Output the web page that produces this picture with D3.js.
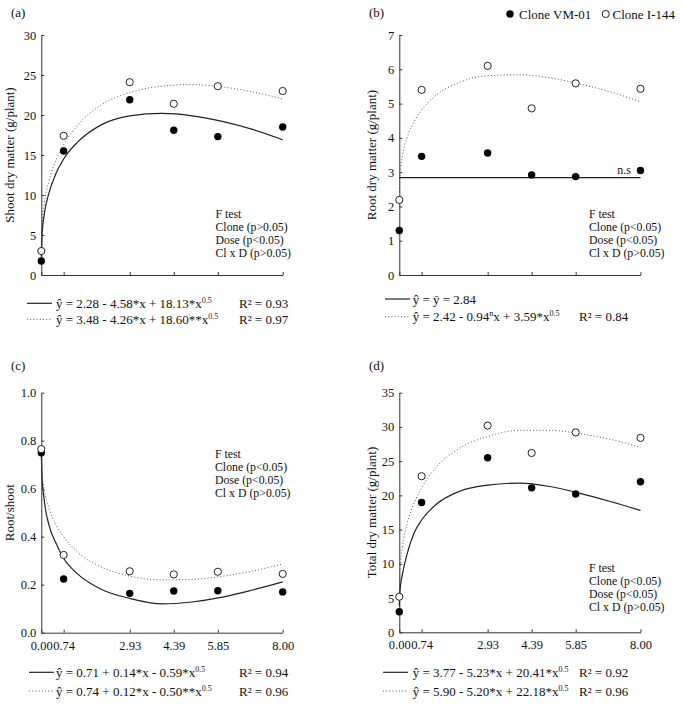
<!DOCTYPE html>
<html>
<head>
<meta charset="utf-8">
<script src="https://cdn.jsdelivr.net/npm/d3@7"></script>
<style>
  body { margin: 0; background: #fff; }
  svg { display: block; }
  text { font-family: "Liberation Serif", "Times New Roman", serif; fill: #111; }
</style>
</head>
<body>
<div id="chart"></div>
<script>
// doses (x) and observed means
const doses = [0, 0.74, 2.93, 4.39, 5.85, 8.00];
const doseLabels = ["0.00", "0.74", "2.93", "4.39", "5.85", "8.00"];

const shootVM   = [1.75, 15.5, 21.9, 18.1, 17.3, 18.5];
const shootI144 = [3.0, 17.4, 24.1, 21.4, 23.6, 23.0];
const rootVM    = [1.30, 3.46, 3.56, 2.92, 2.87, 3.05];
const rootI144  = [2.19, 5.40, 6.10, 4.86, 5.59, 5.43];
const ratioVM   = [0.75, 0.224, 0.164, 0.174, 0.175, 0.17];
const ratioI144 = [0.765, 0.324, 0.256, 0.243, 0.254, 0.245];
const totalVM   = [3.0, 18.96, 25.5, 21.1, 20.2, 22.0];
const totalI144 = [5.2, 22.8, 30.2, 26.2, 29.2, 28.4];

// fitted curves
const fitX = [0, 0.02, 0.1, 0.25, 0.5, 0.74, 1.2, 2, 2.93, 4, 5, 6, 7, 8];
const shootVMFit   = [2.3, 4.7, 7.6, 10.2, 12.8, 14.5, 16.6, 18.8, 19.9, 20.2, 19.9, 19.2, 18.2, 16.9];
const shootI144Fit = [3.5, 6.0, 8.9, 11.7, 14.5, 16.3, 18.7, 21.3, 22.8, 23.6, 23.8, 23.5, 22.9, 22.0];
const rootVMFitX   = [0, 8];
const rootVMFit    = [2.84, 2.84];
const rootI144Fit  = [2.42, 2.91, 3.46, 3.98, 4.49, 4.81, 5.23, 5.62, 5.81, 5.84, 5.75, 5.57, 5.34, 5.05];
const ratioVMFit   = [0.75, 0.66, 0.55, 0.45, 0.37, 0.31, 0.245, 0.18, 0.143, 0.12, 0.128, 0.148, 0.178, 0.212];
const ratioI144Fit = [0.74, 0.672, 0.594, 0.52, 0.446, 0.40, 0.336, 0.273, 0.236, 0.22, 0.222, 0.235, 0.257, 0.286];
const totalVMFit   = [3.8, 6.0, 8.4, 11.3, 14.6, 16.4, 18.6, 20.6, 21.5, 21.8, 21.3, 20.3, 19.1, 17.8];
const totalI144Fit = [5.9, 8.9, 12.4, 15.7, 19.0, 21.1, 24.0, 26.9, 28.6, 29.5, 29.5, 29.0, 28.2, 27.0];

const fTests = {
  a: ["F test", "Clone (p>0.05)", "Dose (p<0.05)", "Cl x D (p>0.05)"],
  b: ["F test", "Clone (p<0.05)", "Dose (p<0.05)", "Cl x D (p>0.05)"],
  c: ["F test", "Clone (p<0.05)", "Dose (p<0.05)", "Cl x D (p>0.05)"],
  d: ["F test", "Clone (p<0.05)", "Dose (p<0.05)", "Cl x D (p>0.05)"]
};

width = 684;
height = 704;
ftStep = 13.1;

svg = d3.select("#chart").append("svg")
    .attr("width", width)
    .attr("height", height);

panels = [
  { id: "a", x0: 41.3, x1: 282.7, y0: 275, y1: 35, max: 30, ticks: d3.range(0, 31, 5), fmt: d3.format("d"),
    ylab: "Shoot dry matter (g/plant)", ylabX: 9, showX: false,
    vm: shootVM, i144: shootI144, vmFitX: fitX, vmFit: shootVMFit, iFit: shootI144Fit,
    ftX: 215.5, ftY: 217.5,
    leg: { lx: 27, tx: 56, rx: 239, y1: 303.3, y2: 319.3,
      lines: [
        [["ŷ = 2.28 - 4.58*x + 18.13*x", "0.5"], "R² = 0.93"],
        [["ŷ = 3.48 - 4.26*x + 18.60**x", "0.5"], "R² = 0.97"]
      ] } },
  { id: "b", x0: 399.3, x1: 640.5, y0: 275, y1: 35, max: 7, ticks: d3.range(0, 8, 1), fmt: d3.format("d"),
    ylab: "Root dry matter (g/plant)", ylabX: 371, showX: false,
    vm: rootVM, i144: rootI144, vmFitX: rootVMFitX, vmFit: rootVMFit, iFit: rootI144Fit,
    ftX: 589, ftY: 217.5,
    leg: { lx: 385, tx: 412.7, rx: 579, y1: 299, y2: 316.7,
      lines: [
        [["ŷ = ȳ = 2.84"], ""],
        [["ŷ = 2.42 - 0.94", "n", "x + 3.59*x", "0.5"], "R² = 0.84"]
      ] } },
  { id: "c", x0: 41.3, x1: 282.7, y0: 632.7, y1: 392.7, max: 1, ticks: d3.range(0, 1.01, 0.2), fmt: d3.format(".1f"),
    ylab: "Root/shoot", ylabX: 9, showX: true,
    vm: ratioVM, i144: ratioI144, vmFitX: fitX, vmFit: ratioVMFit, iFit: ratioI144Fit,
    ftX: 215, ftY: 457.5,
    leg: { lx: 29, tx: 56, rx: 239, y1: 672.3, y2: 691,
      lines: [
        [["ŷ = 0.71 + 0.14*x - 0.59*x", "0.5"], "R² = 0.94"],
        [["ŷ = 0.74 + 0.12*x - 0.50**x", "0.5"], "R² = 0.96"]
      ] } },
  { id: "d", x0: 399.3, x1: 640.5, y0: 632.3, y1: 392.7, max: 35, ticks: d3.range(0, 36, 5), fmt: d3.format("d"),
    ylab: "Total dry matter (g/plant)", ylabX: 371, showX: true,
    vm: totalVM, i144: totalI144, vmFitX: fitX, vmFit: totalVMFit, iFit: totalI144Fit,
    ftX: 589, ftY: 572,
    leg: { lx: 383, tx: 412.7, rx: 579, y1: 672.3, y2: 691,
      lines: [
        [["ŷ = 3.77 - 5.23*x + 20.41*x", "0.5"], "R² = 0.92"],
        [["ŷ = 5.90 - 5.20*x + 22.18*x", "0.5"], "R² = 0.96"]
      ] } }
];

panelLabelPos = { a: [11, 17], b: [369, 17], c: [11, 370], d: [369, 370] };

panels.forEach(function(p) {
    var g = svg.append("g").attr("class", "panel-" + p.id);
    var xScale = d3.scaleLinear().domain([0, 8]).range([p.x0, p.x1]);
    var yScale = d3.scaleLinear().domain([0, p.max]).range([p.y0, p.y1]);

    // panel label
    g.append("text")
        .attr("x", panelLabelPos[p.id][0])
        .attr("y", panelLabelPos[p.id][1])
        .style("font-size", "13px")
        .text("(" + p.id + ")");

    // axes
    var xAxis = d3.axisBottom(xScale)
        .tickValues(doses)
        .tickSizeInner(-3)
        .tickSizeOuter(0)
        .tickPadding(8)
        .tickFormat((d, i) => p.showX ? doseLabels[i] : "");
    var yAxis = d3.axisLeft(yScale)
        .tickValues(p.ticks)
        .tickSizeInner(-3)
        .tickSizeOuter(0)
        .tickPadding(5)
        .tickFormat(p.fmt);

    var gx = g.append("g")
        .attr("transform", `translate(0, ${p.y0})`)
        .call(xAxis);
    var gy = g.append("g")
        .attr("transform", `translate(${p.x0}, 0)`)
        .call(yAxis);
    [gx, gy].forEach(function(ax) {
        ax.attr("font-family", null).attr("font-size", null);
        ax.selectAll("text").style("font-size", "12.5px").attr("fill", "#111");
        ax.selectAll("path, line").attr("stroke", "#333").attr("stroke-width", 1);
    });

    // y label
    g.append("text")
        .attr("transform", `translate(${p.ylabX}, ${(p.y0 + p.y1) / 2}) rotate(-90)`)
        .attr("text-anchor", "middle")
        .attr("dy", "0.35em")
        .style("font-size", "13px")
        .text(p.ylab);

    // fitted curves
    var line = d3.line()
        .x(d => xScale(d[0]))
        .y(d => yScale(d[1]))
        .curve(d3.curveMonotoneX);

    g.append("path")
        .datum(p.vmFitX.map((x, i) => [x, p.vmFit[i]]))
        .attr("d", line)
        .attr("fill", "none")
        .attr("stroke", "#222")
        .attr("stroke-width", 1.2);

    g.append("path")
        .datum(fitX.map((x, i) => [x, p.iFit[i]]))
        .attr("d", line)
        .attr("fill", "none")
        .attr("stroke", "#555")
        .attr("stroke-width", 1)
        .attr("stroke-dasharray", "1,2.2");

    // points
    g.selectAll(".vm")
        .data(doses.map((x, i) => [x, p.vm[i]])).enter()
        .append("circle")
        .attr("cx", d => xScale(d[0]))
        .attr("cy", d => yScale(d[1]))
        .attr("r", 3.7)
        .attr("fill", "#000");

    g.selectAll(".i144")
        .data(doses.map((x, i) => [x, p.i144[i]])).enter()
        .append("circle")
        .attr("cx", d => xScale(d[0]))
        .attr("cy", d => yScale(d[1]))
        .attr("r", 3.6)
        .attr("fill", "#fff")
        .attr("stroke", "#222")
        .attr("stroke-width", 1);

    // F test block
    g.append("text")
        .style("font-size", "11.8px")
        .selectAll("tspan")
        .data(fTests[p.id]).enter()
        .append("tspan")
        .attr("x", p.ftX)
        .attr("y", (d, i) => p.ftY + i * ftStep)
        .text(d => d);

    // regression legend
    [p.leg.y1, p.leg.y2].forEach(function(ly, k) {
        g.append("line")
            .attr("x1", p.leg.lx).attr("x2", p.leg.lx + 25)
            .attr("y1", ly).attr("y2", ly)
            .attr("stroke", k == 0 ? "#222" : "#555")
            .attr("stroke-width", k == 0 ? 1.2 : 1)
            .attr("stroke-dasharray", k == 0 ? null : "1,2.2");
        var parts = p.leg.lines[k][0];
        var t = g.append("text")
            .attr("x", p.leg.tx)
            .attr("y", ly + 4.5)
            .style("font-size", "13px");
        parts.forEach(function(s, j) {
            var sup = j % 2 == 1;
            t.append("tspan")
                .attr("dy", sup ? -5 : (j > 0 ? 5 : 0))
                .style("font-size", sup ? "8px" : "13px")
                .text(s);
        });
        if (p.leg.lines[k][1]) {
            g.append("text")
                .attr("x", p.leg.rx)
                .attr("y", ly + 4.5)
                .style("font-size", "13px")
                .text(p.leg.lines[k][1]);
        }
    });

    if (p.id == "b") {
        g.append("text")
            .attr("x", 631)
            .attr("y", 174)
            .attr("text-anchor", "end")
            .style("font-size", "12px")
            .text("n.s");
    }
});

// clone legend (top right)
legend = svg.append("g");
legend.append("circle").attr("cx", 510).attr("cy", 14).attr("r", 3.7).attr("fill", "#000");
legend.append("text").attr("x", 519).attr("y", 18.5).style("font-size", "13px").text("Clone VM-01");
legend.append("circle").attr("cx", 605.7).attr("cy", 14).attr("r", 3.6)
    .attr("fill", "#fff").attr("stroke", "#222");
legend.append("text").attr("x", 612.5).attr("y", 18.5).style("font-size", "13px").text("Clone I-144");
</script>
</body>
</html>
